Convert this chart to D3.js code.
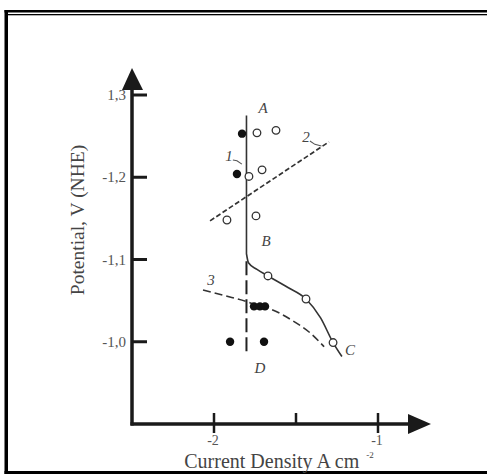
<!DOCTYPE html>
<html>
<head>
<meta charset="utf-8">
<script src="https://cdn.jsdelivr.net/npm/d3@7"></script>
<style>
  html, body { margin: 0; padding: 0; background: #fff; }
  svg { display: block; }
  text { font-family: "Liberation Serif", "DejaVu Serif", serif; }
</style>
</head>
<body>
<svg id="chart" width="487" height="476"></svg>
<script>
// Axis ticks
const yTickValues = [-1.3, -1.2, -1.1, -1.0];
const yTickLabels = ["1,3", "-1,2", "-1,1", "-1,0"];
const xTickValues = [-2, -1.5, -1];
const xTickLabels = ["-2", "", "-1"];

// Curve 1: polarization curve A–B–C (solid); vertical part A–B, then bend to C
const curve1 = [
  [-1.802, -1.275], [-1.802, -1.107], [-1.790, -1.096], [-1.738, -1.088],
  [-1.671, -1.080], [-1.549, -1.066], [-1.439, -1.052], [-1.350, -1.029],
  [-1.274, -0.999], [-1.220, -0.982]
];
// Curve 2: straight dashed line
const curve2 = [[-2.024, -1.147], [-1.299, -1.243]];
// Curve 3: dashed curve
const curve3 = [
  [-2.067, -1.063], [-1.933, -1.056], [-1.802, -1.049], [-1.732, -1.044],
  [-1.659, -1.040], [-1.524, -1.026], [-1.415, -1.011], [-1.329, -0.994]
];
// Branch B–D (long dashes)
const branchD = [[-1.802, -1.098], [-1.802, -0.986]];

// Measured points
const openPoints = [
  [-1.738, -1.254], [-1.622, -1.257], [-1.707, -1.209], [-1.787, -1.201],
  [-1.921, -1.148], [-1.744, -1.153], [-1.671, -1.080], [-1.439, -1.052],
  [-1.274, -0.999]
];
const filledPoints = [
  [-1.829, -1.253], [-1.860, -1.204], [-1.756, -1.043], [-1.720, -1.043],
  [-1.689, -1.043], [-1.902, -1.000], [-1.695, -1.000]
];

// Letter and curve-number annotations (centre positions)
const annotations = [
  { t: "A", x: -1.701, y: -1.284 },
  { t: "B", x: -1.683, y: -1.123 },
  { t: "C", x: -1.171, y: -0.990 },
  { t: "D", x: -1.720, y: -0.968 },
  { t: "1", x: -1.909, y: -1.226 },
  { t: "2", x: -1.439, y: -1.249 },
  { t: "3", x: -2.018, y: -1.075 }
];

const svg = d3.select("#chart");
const ink = "#1a1a1a";

// Frame
svg.append("rect").attr("x", 4.5).attr("y", 10).attr("width", 490).attr("height", 2.5).attr("fill", "#000");
svg.append("rect").attr("x", 8).attr("y", 14).attr("width", 480).attr("height", 1.3).attr("fill", "#000");
svg.append("rect").attr("x", 4.5).attr("y", 10).attr("width", 3.5).attr("height", 464).attr("fill", "#000");
svg.append("rect").attr("x", 4.5).attr("y", 471).attr("width", 490).attr("height", 3).attr("fill", "#000");

const x = d3.scaleLinear().domain([-2.5, -1]).range([132, 378]);
const y = d3.scaleLinear().domain([-0.9, -1.3]).range([424, 95]);

const x0 = x(-2.5), y0 = y(-0.9);

// Y axis with arrow
svg.append("line").attr("x1", x0).attr("x2", x0).attr("y1", y0 + 1.5).attr("y2", 88)
  .attr("stroke", ink).attr("stroke-width", 3.5);
svg.append("path").attr("d", `M${x0 - 10},${90} L${x0},${68} L${x0 + 11},${90} Z`).attr("fill", ink);

// X axis with arrow
svg.append("line").attr("x1", x0 - 1.5).attr("x2", 410).attr("y1", y0).attr("y2", y0)
  .attr("stroke", ink).attr("stroke-width", 3.5);
svg.append("path").attr("d", `M${408},${y0 - 10} L${431},${y0} L${408},${y0 + 10} Z`).attr("fill", ink);

// Y ticks
svg.selectAll(".ytick").data(yTickValues).join("line")
  .attr("x1", x0).attr("x2", x0 + 15)
  .attr("y1", d => y(d)).attr("y2", d => y(d))
  .attr("stroke", ink).attr("stroke-width", 3);
svg.selectAll(".ylab").data(yTickValues).join("text")
  .attr("x", x0 - 6).attr("y", d => y(d) + 5)
  .attr("text-anchor", "end").attr("font-size", 15).attr("fill", "#555")
  .text((d, i) => yTickLabels[i]);

// X ticks
svg.selectAll(".xtick").data(xTickValues).join("line")
  .attr("x1", d => x(d)).attr("x2", d => x(d))
  .attr("y1", y0 - 11).attr("y2", (d, i) => xTickLabels[i] ? y0 + 9 : y0)
  .attr("stroke", ink).attr("stroke-width", 2.5);
svg.selectAll(".xlab").data(xTickValues).join("text")
  .attr("x", d => x(d) - 1).attr("y", y0 + 21)
  .attr("text-anchor", "middle").attr("font-size", 14).attr("fill", "#555")
  .text((d, i) => xTickLabels[i]);

// Axis titles
const xt = svg.append("text").attr("x", 279).attr("y", 468)
  .attr("text-anchor", "middle").attr("font-size", 20).attr("fill", "#444");
xt.append("tspan").text("Current Density A cm");
xt.append("tspan").attr("dx", 7).attr("dy", -10).attr("font-size", 9).text("-2");

svg.append("text").attr("transform", "translate(84,220) rotate(-90)")
  .attr("text-anchor", "middle").attr("font-size", 19.5).attr("fill", "#444")
  .text("Potential, V (NHE)");

// Curves
const lineBend = d3.line().x(d => x(d[0])).y(d => y(d[1])).curve(d3.curveMonotoneX);
const lineStraight = d3.line().x(d => x(d[0])).y(d => y(d[1]));

// Curve 1: straight vertical run, then the smooth bend towards C
svg.append("path").attr("d", lineStraight(curve1.slice(0, 2)) + lineBend(curve1.slice(1)).replace(/^M/, "L"))
  .attr("fill", "none").attr("stroke", "#333").attr("stroke-width", 1.6);
svg.append("path").attr("d", lineStraight(curve2))
  .attr("fill", "none").attr("stroke", "#333").attr("stroke-width", 1.7)
  .attr("stroke-dasharray", "5,2.5");
svg.append("path").attr("d", lineBend(curve3))
  .attr("fill", "none").attr("stroke", "#333").attr("stroke-width", 1.6)
  .attr("stroke-dasharray", "8,4");
svg.append("path").attr("d", lineStraight(branchD))
  .attr("fill", "none").attr("stroke", "#222").attr("stroke-width", 2)
  .attr("stroke-dasharray", "14,5");

// Points
svg.selectAll(".open").data(openPoints).join("circle")
  .attr("cx", d => x(d[0])).attr("cy", d => y(d[1])).attr("r", 3.8)
  .attr("fill", "#fff").attr("stroke", "#333").attr("stroke-width", 1.3);
svg.selectAll(".filled").data(filledPoints).join("circle")
  .attr("cx", d => x(d[0])).attr("cy", d => y(d[1])).attr("r", 4.2)
  .attr("fill", "#111");

// Annotations
svg.selectAll(".ann").data(annotations).join("text")
  .attr("x", d => x(d.x)).attr("y", d => y(d.y)).attr("dy", "0.35em")
  .attr("text-anchor", "middle").attr("font-size", 15).attr("font-style", "italic")
  .attr("fill", "#444").text(d => d.t);

// Leader strokes for curve numbers 1 and 2
const leaders = [
  [[-1.885, -1.221], [-1.860, -1.220], [-1.830, -1.216]],
  [[-1.415, -1.244], [-1.385, -1.240], [-1.345, -1.238]]
];
svg.selectAll(".lead").data(leaders).join("path")
  .attr("d", d => lineStraight(d))
  .attr("fill", "none").attr("stroke", "#555").attr("stroke-width", 1.1);
</script>
</body>
</html>
